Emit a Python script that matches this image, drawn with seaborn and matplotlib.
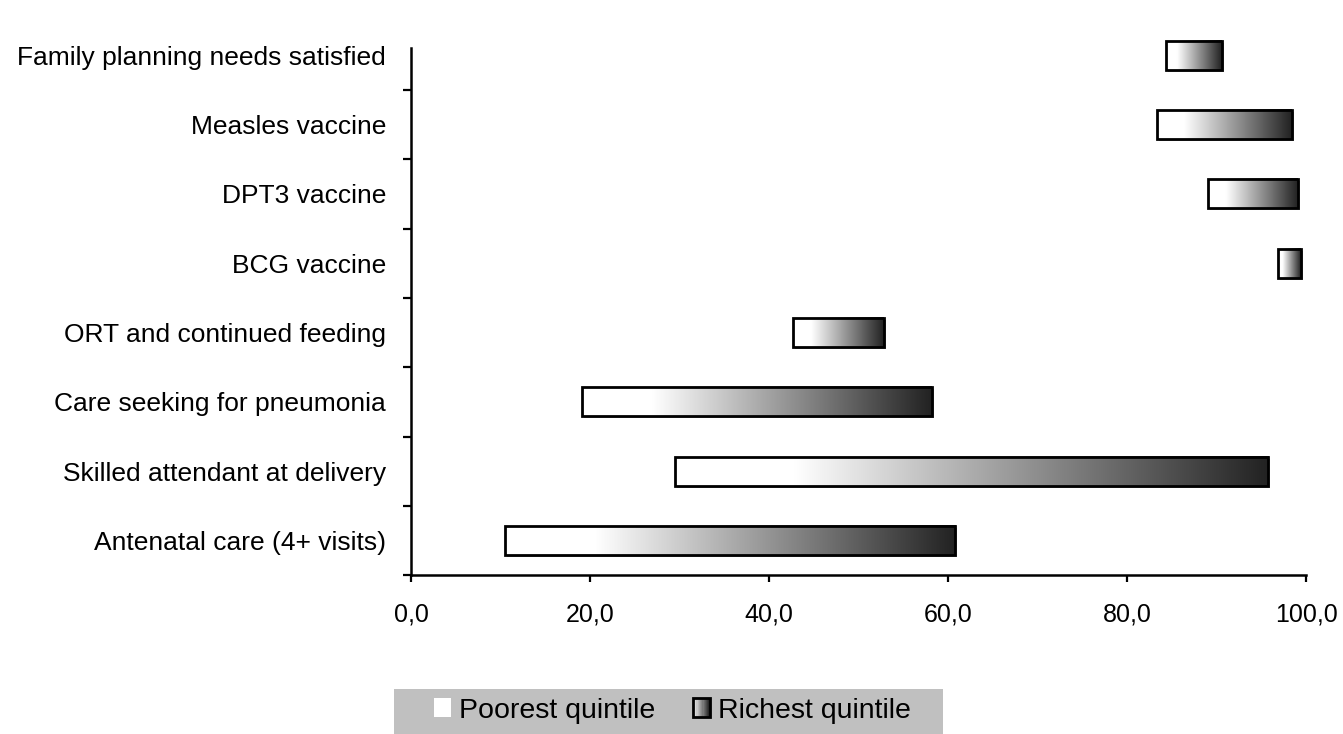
import numpy as np
import pandas as pd
import matplotlib
matplotlib.use('Agg')
import matplotlib.pyplot as plt
import matplotlib.transforms as mtransforms
from matplotlib.colors import LinearSegmentedColormap
from matplotlib.patches import Rectangle
from matplotlib.legend_handler import HandlerBase
import seaborn as sns

# data, top to bottom
indicators = ['Family planning needs satisfied', 'Measles vaccine', 'DPT3 vaccine',
              'BCG vaccine', 'ORT and continued feeding', 'Care seeking for pneumonia',
              'Skilled attendant at delivery', 'Antenatal care (4+ visits)']
poorest = [84.4, 83.4, 89.1, 96.9, 42.7, 19.1, 29.5, 10.5]
richest = [90.6, 98.4, 99.1, 99.4, 52.8, 58.2, 95.8, 60.8]
x_ticks = [0, 20, 40, 60, 80, 100]
x_ticklabels = ['0,0', '20,0', '40,0', '60,0', '80,0', '100,0']

df = pd.DataFrame({'indicator': indicators, 'poorest': poorest, 'richest': richest})
df['gap'] = df['richest'] - df['poorest']

sns.set_theme(style='white')
plt.rcParams['font.family'] = ['Liberation Sans', 'DejaVu Sans']
plt.rcParams['text.color'] = 'black'
plt.rcParams['xtick.labelcolor'] = 'black'
plt.rcParams['ytick.labelcolor'] = 'black'

# white for the first part of the bar, then fading to dark grey
grad_cmap = LinearSegmentedColormap.from_list(
    'wg', [(0.0, '#ffffff'), (0.2, '#ffffff'), (1.0, '#222222')])

fig = plt.figure(figsize=(13.43, 7.34), dpi=100)
ax = fig.add_axes([0.30603, 0.21635, 0.66642, 0.75558])

sns.barplot(data=df, x='gap', y='indicator', left=df['poorest'].to_numpy(),
            width=0.42, errorbar=None, color='white', ax=ax)

grad = np.linspace(0, 1, 256).reshape(1, -1)
shadow_tr = mtransforms.offset_copy(ax.transData, fig=fig, x=2, y=-2, units='dots')
for p in ax.patches:
    x0, y0 = p.get_x(), p.get_y()
    w, h = p.get_width(), p.get_height()
    p.set_facecolor('none')
    p.set_edgecolor('black')
    p.set_linewidth(2.0)
    p.set_zorder(4)
    ax.add_patch(Rectangle((x0, y0), w, h, facecolor='#a0a0a0', edgecolor='none',
                           transform=shadow_tr, zorder=2))
    ax.imshow(grad, cmap=grad_cmap, aspect='auto', extent=(x0, x0 + w, y0 + h, y0),
              interpolation='bilinear', zorder=3)

ax.set_xlim(0, 100)
ax.set_ylim(7.5, -0.5)
ax.set_xlabel('')
ax.set_ylabel('')

ax.set_xticks(x_ticks)
ax.set_xticklabels(x_ticklabels, fontsize=18)
ax.tick_params(axis='x', direction='out', length=5, width=1.6, color='black',
               pad=15, bottom=True)
ax.set_yticks(range(len(indicators)))
ax.set_yticklabels(indicators, fontsize=19)
ax.tick_params(axis='y', length=0, pad=18)
ax.set_yticks(np.arange(0.5, len(indicators), 1.0), minor=True)
ax.tick_params(axis='y', which='minor', direction='out', length=6, width=1.6,
               color='black', left=True)

for side in ['top', 'right']:
    ax.spines[side].set_visible(False)
for side in ['left', 'bottom']:
    ax.spines[side].set_color('black')
    ax.spines[side].set_linewidth(1.8)
ax.spines['left'].set_bounds(7.5, -0.105)
ax.grid(False)


class GradientHandler(HandlerBase):
    def create_artists(self, legend, orig_handle, xdescent, ydescent, width, height,
                       fontsize, trans):
        n = 14
        arts = []
        for i in range(n):
            arts.append(Rectangle((-xdescent + i * width / n, -ydescent), width / n, height,
                                  facecolor=grad_cmap(0.2 + 0.8 * (i + 0.5) / n),
                                  edgecolor='none', transform=trans))
        arts.append(Rectangle((-xdescent, -ydescent), width, height, facecolor='none',
                              edgecolor='black', linewidth=2.0, transform=trans))
        return arts


class WhiteHandler(HandlerBase):
    def create_artists(self, legend, orig_handle, xdescent, ydescent, width, height,
                       fontsize, trans):
        return [Rectangle((-xdescent, -ydescent), width, height, facecolor='white',
                          edgecolor='none', transform=trans)]


fig.patches.append(Rectangle((0.2934, 0.0), 0.4088, 0.0613, transform=fig.transFigure,
                             facecolor='#c0c0c0', edgecolor='none', zorder=0))
h_poor = Rectangle((0, 0), 1, 1)
h_rich = Rectangle((0, 0), 1, 1)
fig.legend([h_poor, h_rich], ['Poorest quintile', 'Richest quintile'],
           handler_map={h_poor: WhiteHandler(), h_rich: GradientHandler()},
           loc='center', bbox_to_anchor=(0.5007, 0.032), ncol=2, frameon=False,
           fontsize=20.5, handlelength=0.6, handleheight=0.6, handletextpad=0.3,
           columnspacing=1.3, borderpad=0)

plt.savefig('out.png', dpi=100)
